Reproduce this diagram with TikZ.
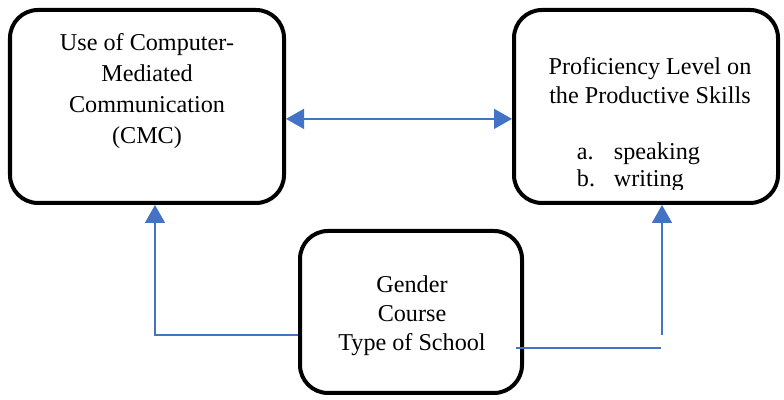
\documentclass[tikz,border=0pt]{standalone}
\usepackage{fontspec}
\setmainfont{Liberation Serif}
\usetikzlibrary{arrows.meta}
\definecolor{linkblue}{HTML}{4472C4}
\begin{document}
\begin{tikzpicture}
\tikzset{boite/.style={draw, line width=0.1cm, rounded corners=0.7cm},
  texte/.style={align=center, font=\fontsize{17.2}{20.5}\selectfont},
  lien/.style={draw=linkblue, line width=1.1pt},
  fleche/.style={lien, -{Triangle[width=0.5cm, length=0.45cm]}}}
\useasboundingbox (0,0) rectangle (19.6,10);
\node[boite, minimum width=6.85cm, minimum height=4.825cm] (cmc) at (3.675,7.3375) {};
\node[boite, minimum width=6.6cm, minimum height=4.825cm] (skill) at (16.15,7.3375) {};
\node[boite, minimum width=5.55cm, minimum height=4.05cm] (var) at (10.275,2.2) {};
\node[texte, font=\fontsize{17.2}{22}\selectfont] (cmctxt) at (3.675,7.72) {Use of Computer-\\Mediated\\Communication\\(CMC)};
\node[texte] (skilltxt) at (16.25,7.975) {Proficiency Level on\\the Productive Skills};
\begin{scope}
\clip (13.5,5.25) rectangle (19,6.9);
\node[texte, align=left, anchor=west, font=\fontsize{17.2}{19.5}\selectfont] (skilllist) at (14.3,5.82)
  {\makebox[0.925cm][l]{a.}speaking\\\makebox[0.925cm][l]{b.}writing};
\end{scope}
\node[texte] (vartxt) at (10.3,2.1) {Gender\\Course\\Type of School};
\coordinate (lcoin) at (3.875,1.625);
\coordinate (rpied) at (16.55,1.625);
\coordinate (rcoin) at (16.525,1.3);
\draw[lien, {Triangle[width=0.5cm, length=0.45cm]}-{Triangle[width=0.5cm, length=0.45cm]}]
  ([yshift=-0.31cm]cmc.east) -- ([yshift=-0.31cm]skill.west);
\draw[fleche] (lcoin -| var.west) -- (lcoin) -- (lcoin |- cmc.south);
\draw[lien] ([xshift=-0.2cm]var.east |- rcoin) -- (rcoin);
\draw[fleche] (rpied) -- (rpied |- skill.south);
\end{tikzpicture}
\end{document}
